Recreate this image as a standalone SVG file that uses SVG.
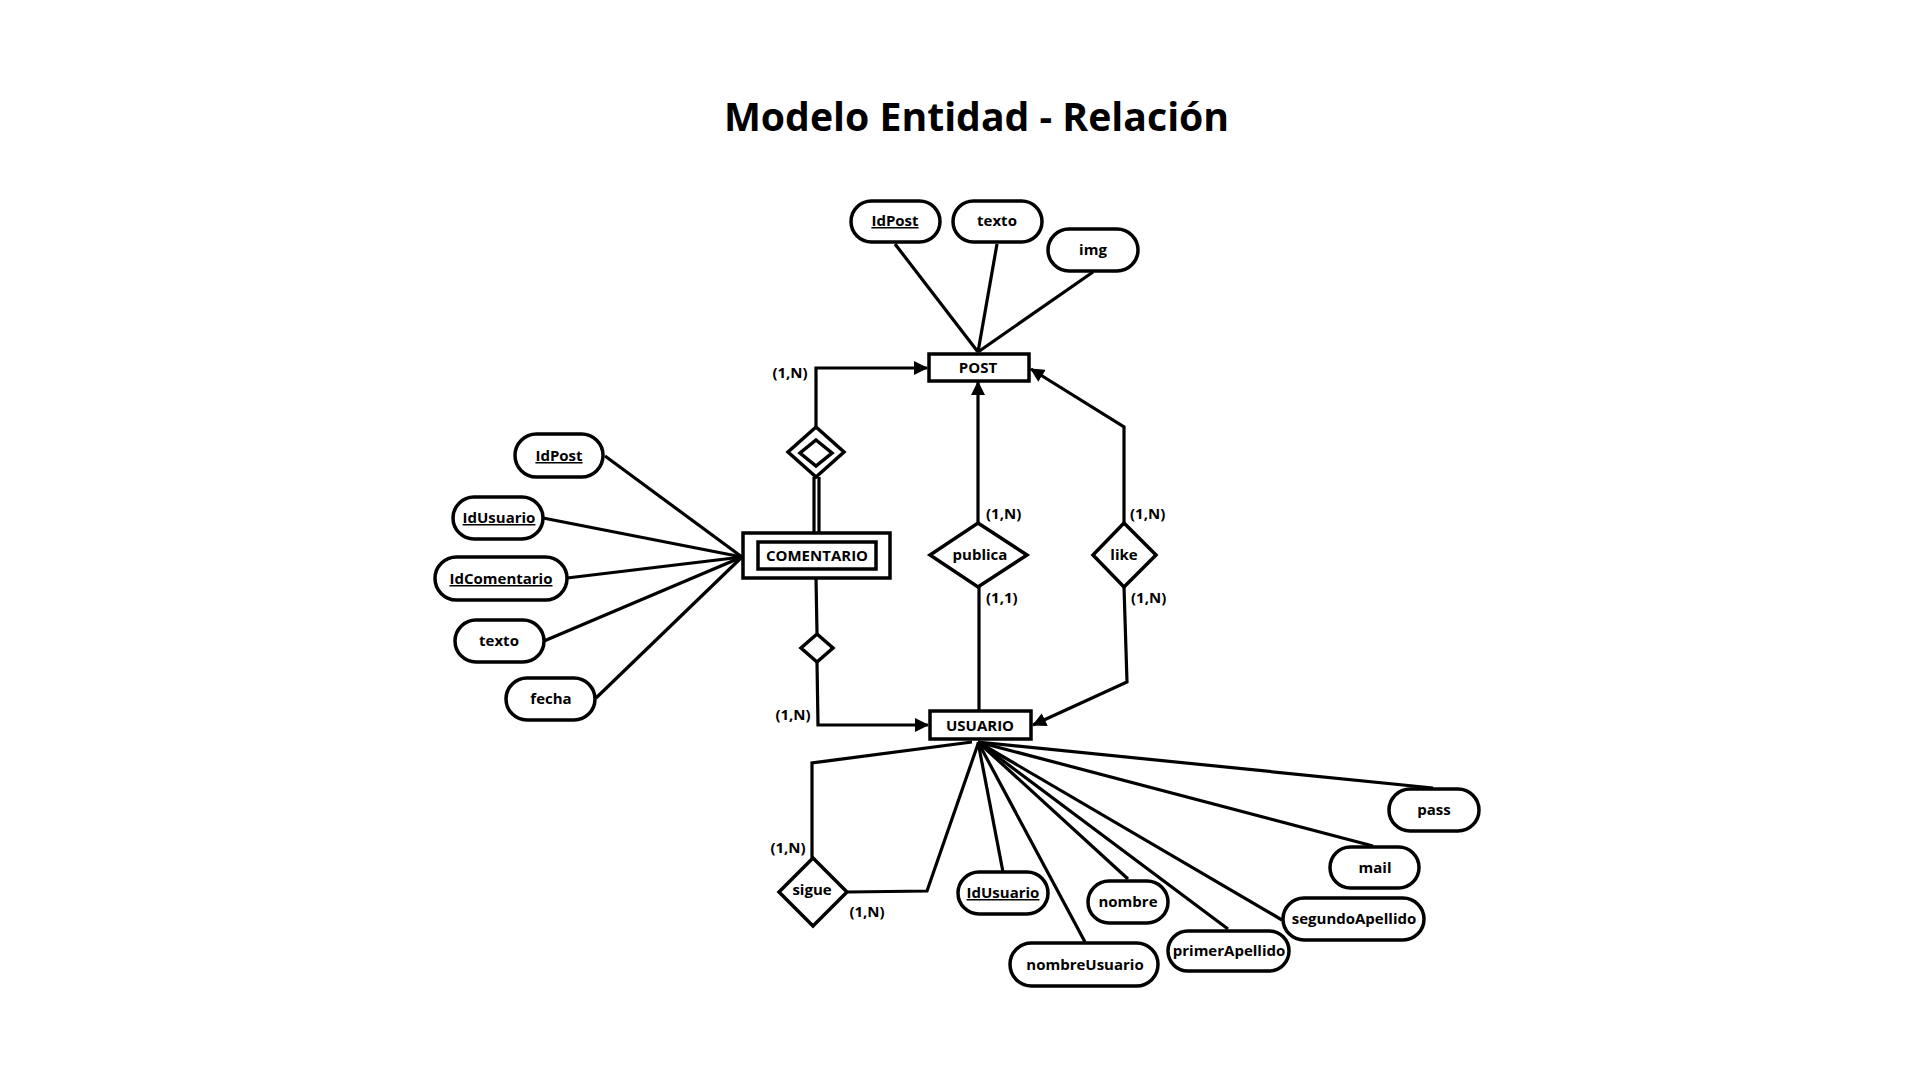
<svg xmlns="http://www.w3.org/2000/svg" width="1920" height="1080" viewBox="0 0 1920 1080">
<style>
text{font-family:"Open Sans","Liberation Sans",sans-serif;font-weight:700;fill:#000}
.t{font-size:15px;text-anchor:middle}
.c{font-size:15px}
.key{text-decoration:underline}
.title{font-size:39.2px;text-anchor:middle}
.attr{fill:#fff;stroke:#000;stroke-width:3.5}
.ent{fill:#fff;stroke:#000;stroke-width:3.5}
.rel{fill:#fff;stroke:#000;stroke-width:3.5;stroke-linejoin:miter}
.ln{fill:none;stroke:#000;stroke-width:3.2}
.arr{marker-end:url(#ah)}
</style>
<defs>
<marker id="ah" viewBox="0 0 14 14" refX="13" refY="7" markerWidth="14" markerHeight="14" markerUnits="userSpaceOnUse" orient="auto">
<path d="M0,0 L14,7 L0,14 z" fill="#000"/>
</marker>
</defs>
<rect width="1920" height="1080" fill="#fff"/>
<text class="title" x="976.5" y="131">Modelo Entidad - Relación</text>

<g id="connectors">
<line class="ln" x1="895" y1="244" x2="978" y2="352"/>
<line class="ln" x1="997" y1="244" x2="978" y2="352"/>
<line class="ln" x1="1093" y1="272" x2="978" y2="352"/>
<polyline class="ln arr" points="816,427 816,368 927,368"/>
<line class="ln arr" x1="978" y1="523" x2="978" y2="382"/>
<polyline class="ln arr" points="1124,523 1124,427 1031,369"/>
<line class="ln" x1="979" y1="587" x2="979" y2="710"/>
<polyline class="ln arr" points="1124,587 1127,682 1033,725"/>
<line class="ln" x1="814" y1="477" x2="814" y2="533"/>
<line class="ln" x1="819" y1="477" x2="819" y2="533"/>
<line class="ln" x1="816" y1="578" x2="817" y2="633"/>
<polyline class="ln arr" points="817,662 818,725 928,725"/>
<line class="ln" x1="605" y1="456" x2="742" y2="557"/>
<line class="ln" x1="543" y1="518" x2="742" y2="557"/>
<line class="ln" x1="567" y1="578" x2="742" y2="557"/>
<line class="ln" x1="544" y1="641" x2="742" y2="557"/>
<line class="ln" x1="596" y1="698" x2="742" y2="557"/>
<polyline class="ln" points="972,742 812,763 812,858"/>
<polyline class="ln" points="848,892 927,891 978,744"/>
<line class="ln" x1="978" y1="742" x2="1003" y2="872"/>
<line class="ln" x1="978" y1="742" x2="1085" y2="942"/>
<line class="ln" x1="978" y1="742" x2="1128" y2="879"/>
<line class="ln" x1="978" y1="742" x2="1228" y2="929"/>
<line class="ln" x1="978" y1="742" x2="1282" y2="920"/>
<line class="ln" x1="978" y1="742" x2="1373" y2="846"/>
<line class="ln" x1="978" y1="742" x2="1433" y2="788"/>
</g>

<g id="cardinalities">
<text class="t" x="790" y="378">(1,N)</text>
<text class="c" x="986" y="519">(1,N)</text>
<text class="c" x="986" y="603">(1,1)</text>
<text class="c" x="1130" y="519">(1,N)</text>
<text class="c" x="1131" y="603">(1,N)</text>
<text class="t" x="793" y="720">(1,N)</text>
<text class="t" x="788" y="853">(1,N)</text>
<text class="t" x="867" y="917">(1,N)</text>
</g>

<g id="POST">
<rect class="ent" x="929" y="354" width="100" height="27"/>
<text class="t" x="978" y="373">POST</text>
</g>
<g id="USUARIO">
<rect class="ent" x="930" y="711" width="101" height="28"/>
<text class="t" x="980" y="731">USUARIO</text>
</g>
<g id="COMENTARIO">
<rect class="ent" x="743" y="533" width="147" height="45"/>
<rect class="ent" x="758" y="542" width="118" height="27"/>
<text class="t" x="817" y="561">COMENTARIO</text>
</g>

<g id="rel-comentario-post">
<polygon class="rel" points="816,427 844,452 816,477 788,452"/>
<polygon class="rel" points="816,440 832,453 816,466 800,453"/>
</g>
<g id="rel-comentario-usuario">
<polygon class="rel" points="817,634 833,648 817,662 801,648"/>
</g>
<g id="rel-publica">
<polygon class="rel" points="978,523 1027,555 978,587 930,555"/>
<text class="t" x="980" y="560">publica</text>
</g>
<g id="rel-like">
<polygon class="rel" points="1124,523 1156,555 1124,587 1093,555"/>
<text class="t" x="1124" y="560">like</text>
</g>
<g id="rel-sigue">
<polygon class="rel" points="813,858 847,892 813,926 779,892"/>
<text class="t" x="812" y="895">sigue</text>
</g>

<g id="post-idpost"><rect class="attr" x="851" y="201" width="89" height="41" rx="20.5"/><text class="t key" x="895" y="226">IdPost</text></g>
<g id="post-texto"><rect class="attr" x="953" y="201" width="89" height="41" rx="20.5"/><text class="t" x="997" y="226">texto</text></g>
<g id="post-img"><rect class="attr" x="1048" y="229" width="90" height="42" rx="21"/><text class="t" x="1093" y="255">img</text></g>

<g id="com-idpost"><rect class="attr" x="515" y="434" width="88" height="43" rx="21.5"/><text class="t key" x="559" y="461">IdPost</text></g>
<g id="com-idusuario"><rect class="attr" x="453" y="497" width="90" height="42" rx="21"/><text class="t key" x="499" y="523">IdUsuario</text></g>
<g id="com-idcomentario"><rect class="attr" x="435" y="557" width="132" height="43" rx="21.5"/><text class="t key" x="501" y="584">IdComentario</text></g>
<g id="com-texto"><rect class="attr" x="455" y="620" width="89" height="42" rx="21"/><text class="t" x="499" y="646">texto</text></g>
<g id="com-fecha"><rect class="attr" x="506" y="678" width="89" height="42" rx="21"/><text class="t" x="551" y="704">fecha</text></g>

<g id="usr-idusuario"><rect class="attr" x="958" y="872" width="90" height="42" rx="21"/><text class="t key" x="1003" y="898">IdUsuario</text></g>
<g id="usr-nombre"><rect class="attr" x="1088" y="881" width="80" height="42" rx="21"/><text class="t" x="1128" y="907">nombre</text></g>
<g id="usr-nombreusuario"><rect class="attr" x="1010" y="943" width="148" height="43" rx="21.5"/><text class="t" x="1085" y="970">nombreUsuario</text></g>
<g id="usr-primerapellido"><rect class="attr" x="1168" y="931" width="121" height="40" rx="20"/><text class="t" x="1229" y="956">primerApellido</text></g>
<g id="usr-segundoapellido"><rect class="attr" x="1283" y="898" width="141" height="42" rx="21"/><text class="t" x="1354" y="924">segundoApellido</text></g>
<g id="usr-mail"><rect class="attr" x="1330" y="847" width="89" height="41" rx="20.5"/><text class="t" x="1375" y="873">mail</text></g>
<g id="usr-pass"><rect class="attr" x="1389" y="789" width="90" height="42" rx="21"/><text class="t" x="1434" y="815">pass</text></g>
</svg>
